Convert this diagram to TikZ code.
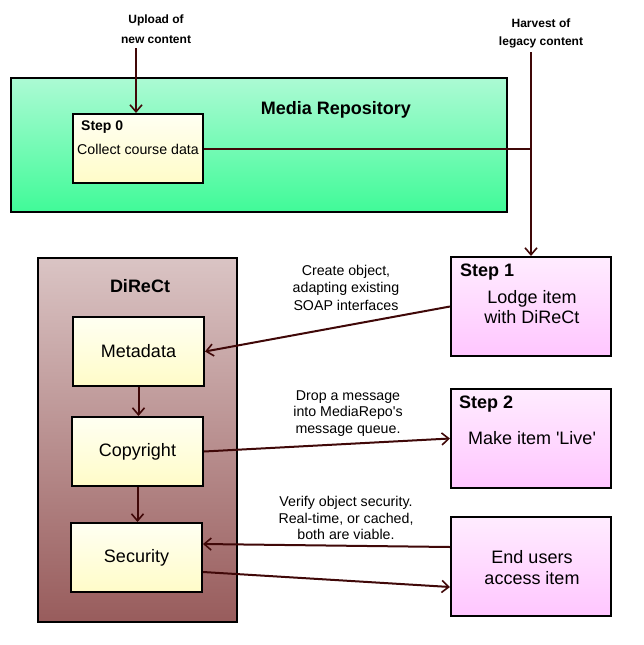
\documentclass[tikz,border=0pt]{standalone}
\usepackage{fontspec}
\setmainfont{Liberation Sans}
\usetikzlibrary{arrows.meta}
\definecolor{lnc}{HTML}{400808}
\tikzset{
  box/.style={draw=black, line width=2pt, inner sep=0pt},
  yelbox/.style={box, top color=yellow!5!white, bottom color={rgb,255:red,255;green,252;blue,200}, minimum width=130pt, minimum height=69pt},
  pinkbox/.style={box, top color={rgb,255:red,255;green,236;blue,255}, bottom color={rgb,255:red,255;green,198;blue,255}, minimum width=160pt, minimum height=99pt},
  conn/.style={draw=lnc, line width=2pt},
  arr/.style={conn, -{Straight Barb[length=7pt,width=12pt,line width=1.6pt]}},
  lbl/.style={align=center, font=\fontsize{14.2}{16.5}\selectfont, inner sep=0pt},
  boxtxt/.style={align=center, font=\fontsize{18}{20}\selectfont, inner sep=0pt},
  bigtxt/.style={align=center, font=\fontsize{18}{20.5}\selectfont, inner sep=0pt},
  boldtxt/.style={font=\bfseries\fontsize{18}{19}\selectfont, inner sep=0pt},
}
\begin{document}
\begin{tikzpicture}[x=1pt,y=-1pt]
\useasboundingbox (0,0) rectangle (643,645);
\fill[white] (0,0) rectangle (643,645);
% Media repository
\node[box, top color={rgb,255:red,172;green,250;blue,212}, bottom color={rgb,255:red,64;green,250;blue,152}, minimum width=496pt, minimum height=134pt] (media) at (259,145) {};
\node[boldtxt, font=\bfseries\fontsize{18}{20}\selectfont] (mediat) at (336,110) {Media Repository};
\node[yelbox] (s0) at (138,148.5) {};
\node[boldtxt, font=\bfseries\fontsize{14}{17}\selectfont, anchor=west] (s0t) at (81,127.5) {Step 0};
\node[lbl, font=\fontsize{14.2}{17}\selectfont] (s0x) at (138,149) {Collect course data};
% top labels
\node[align=center, font=\bfseries\fontsize{12}{19.5}\selectfont, inner sep=0pt] (up) at (156,29) {Upload of\\new content};
\node[align=center, font=\bfseries\fontsize{12}{18}\selectfont, inner sep=0pt] (hv) at (541,33) {Harvest of\\legacy content};
\coordinate (upS) at (136,48);
\coordinate (hvS) at (531,52);
\coordinate (j) at (531,149);
% DiReCt
\node[box, top color={rgb,255:red,218;green,196;blue,196}, bottom color={rgb,255:red,152;green,92;blue,92}, minimum width=199pt, minimum height=364pt] (direct) at (137.5,440) {};
\node[boldtxt] (directt) at (140,286) {DiReCt};
\node[yelbox, minimum width=131pt] (meta) at (138.5,351.5) {};
\node[boxtxt] at (meta) {Metadata};
\node[yelbox, minimum width=131pt] (copy) at (137.5,451.5) {};
\node[boxtxt] at (copy) {Copyright};
\node[yelbox, minimum width=131pt] (sec) at (136.5,557.5) {};
\node[boxtxt] at (sec) {Security};
% Steps
\node[pinkbox] (s1) at (531,306.5) {};
\node[boldtxt, anchor=west] (s1t) at (460,272) {Step 1};
\node[bigtxt] (s1x) at (532,307) {Lodge item\\with DiReCt};
\node[pinkbox] (s2) at (531,438.5) {};
\node[boldtxt, anchor=west] (s2t) at (459,404) {Step 2};
\node[bigtxt] (s2x) at (532,438) {Make item \textquotesingle Live\textquotesingle};
\node[pinkbox] (eu) at (531,566.5) {};
\node[bigtxt] (eux) at (532,567.5) {End users\\access item};
% labels on connectors
\node[lbl, font=\fontsize{14.2}{17.5}\selectfont] (l1) at (346,287.5) {Create object,\\adapting existing\\SOAP interfaces};
\node[lbl] (l2) at (348,413.5) {Drop a message\\into MediaRepo\textquotesingle s\\message queue.};
\node[lbl] (l3) at (346,518) {Verify object security.\\Real-time, or cached,\\both are viable.};
% connectors
\draw[arr] (upS) -- (upS |- s0.north);
\draw[conn] (s0.east |- j) -- (j);
\draw[arr] (hvS) -- (s1.north);
\draw[arr] (s1.west) -- (meta.east);
\draw[arr] (copy.east) -- (s2.west);
\draw[arr] ([yshift=19.5pt]eu.west) -- ([yshift=13.5pt]sec.east);
\draw[arr] ([yshift=-14.5pt]sec.east) -- ([yshift=-20.5pt]eu.west);
\draw[arr] (meta.south) -- (meta.south |- copy.north);
\draw[arr] (copy.south) -- (copy.south |- sec.north);
\end{tikzpicture}
\end{document}
